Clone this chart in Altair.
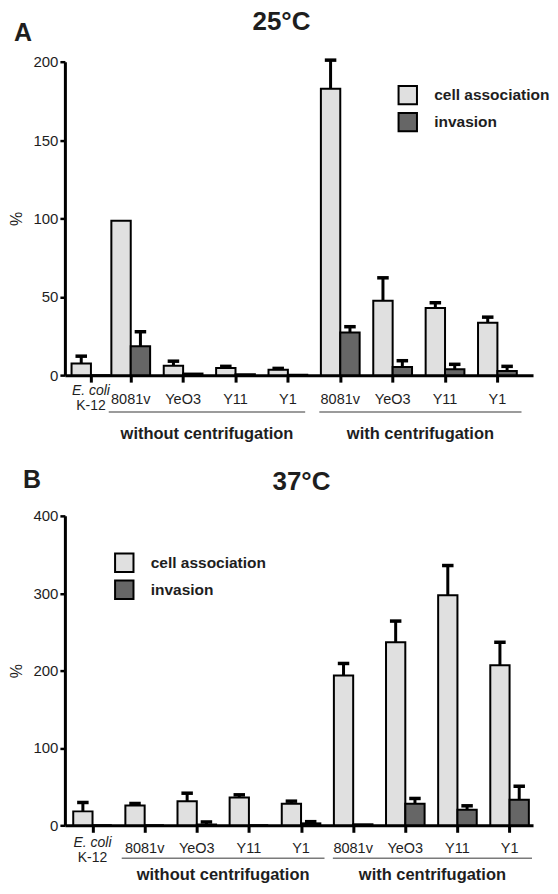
import altair as alt
import pandas as pd

# ---------------- data ----------------
categories = ["E. coli K-12", "8081v", "YeO3", "Y11", "Y1", "8081v", "YeO3", "Y11", "Y1"]
series_names = ["cell association", "invasion"]
group_names = ["without centrifugation", "with centrifugation"]

# 25 °C (panel A)
cell_25 = [7.4, 98.5, 6.0, 4.6, 3.5, 182.8, 47.4, 42.8, 33.4]
cell_25_err = [4.7, 0.0, 2.9, 1.0, 0.8, 18.2, 14.7, 3.4, 3.6]
inv_25 = [0.0, 18.5, 1.0, 0.6, 0.3, 27.2, 5.2, 3.8, 2.6]
inv_25_err = [0.0, 9.2, 0.0, 0.0, 0.0, 3.7, 4.0, 3.1, 3.0]

# 37 °C (panel B)
cell_37 = [18.0, 25.7, 31.2, 35.9, 27.8, 193.8, 236.6, 297.3, 207.0]
cell_37_err = [11.5, 2.5, 10.3, 3.5, 3.4, 15.4, 27.4, 38.5, 29.6]
inv_37 = [0.0, 0.0, 1.0, 0.0, 2.5, 1.3, 27.8, 20.1, 32.9]
inv_37_err = [0.0, 0.0, 3.3, 0.0, 2.2, 0.0, 6.9, 5.1, 17.6]

FONT = "Liberation Sans"
TXT = "#1e1e1e"
BAR_W = 0.37
CAP = 0.11


def panel(title, letter, cell, cell_err, inv, inv_err, slots, xdomain, ymax, yticks,
          height, leg_xy, title_xy, letter_xy, off):
    rows = []
    for i, cat in enumerate(categories):
        for s, v, e in ((series_names[0], cell[i], cell_err[i]), (series_names[1], inv[i], inv_err[i])):
            rows.append({"category": cat, "idx": i, "series": s, "value": v, "err": e, "slot": slots[i]})
    df = pd.DataFrame(rows)

    xscale = alt.Scale(domain=xdomain, nice=False, zero=False)
    xaxis = alt.Axis(values=slots, labels=False, title=None, grid=False, tickSize=7, tickWidth=3,
                     domainWidth=3, tickColor="black", domainColor="black")
    yscale = alt.Scale(domain=[0, ymax], nice=False)
    yaxis = alt.Axis(values=yticks, title="%", grid=False, tickSize=5, tickWidth=2.5, domainWidth=3,
                     tickColor="black", domainColor="black", labelFontSize=15, labelFont=FONT,
                     labelColor=TXT, labelPadding=2, titleFontSize=16, titleFont=FONT,
                     titleFontWeight="normal", titleColor=TXT, titlePadding=8)

    def X(f):
        return alt.X(f, type="quantitative", scale=xscale, axis=xaxis)

    def Y(f):
        return alt.Y(f, type="quantitative", scale=yscale, axis=yaxis)

    base = alt.Chart(df).transform_calculate(
        x0=f"datum.series == 'cell association' ? datum.slot - {BAR_W} : datum.slot",
        x1=f"datum.series == 'cell association' ? datum.slot : datum.slot + {BAR_W}",
        zero="0",
    )
    bars = base.mark_bar(stroke="black", strokeWidth=2).encode(
        x=X("x0"), x2="x1:Q", y=Y("value"), y2="zero:Q",
        fill=alt.Fill("series:N", scale=alt.Scale(domain=series_names, range=["#e0e0e0", "#666666"]),
                      legend=alt.Legend(title=None, orient="none", legendX=leg_xy[0], legendY=leg_xy[1],
                                        symbolType="square", symbolSize=340, symbolStrokeColor="black",
                                        symbolStrokeWidth=2, symbolOpacity=1, labelFontSize=15.5,
                                        labelFontWeight="bold", labelFont=FONT, labelColor=TXT,
                                        rowPadding=0, labelOffset=16, padding=0)),
    )
    eb = base.transform_filter("datum.err > 0").transform_calculate(
        cx="(datum.x0 + datum.x1) / 2",
        top="datum.value + datum.err",
    ).transform_calculate(cl=f"datum.cx - {CAP}", cr=f"datum.cx + {CAP}")
    err_line = eb.mark_rule(color="black", strokeWidth=3).encode(x=X("cx"), y=Y("value"), y2="top:Q")
    err_cap = eb.mark_rule(color="black", strokeWidth=3.5).encode(x=X("cl"), x2="cr:Q", y=Y("top"))

    cat_df = pd.DataFrame({"category": categories[1:], "slot": slots[1:]})
    cat_text = alt.Chart(cat_df).mark_text(font=FONT, fontSize=14.5, color=TXT, baseline="middle").encode(
        x=X("slot"), y=alt.value(height + off["cat"]), text="category:N")
    eco_df = pd.DataFrame({"a": [categories[0].split(" K-")[0]], "b": ["K-" + categories[0].split(" K-")[1]],
                           "slot": [slots[0]]})
    eco1 = alt.Chart(eco_df).mark_text(font=FONT, fontSize=14, fontStyle="italic", color=TXT,
                                       baseline="middle").encode(
        x=X("slot"), y=alt.value(height + off["eco1"]), text="a:N")
    eco2 = alt.Chart(eco_df).mark_text(font=FONT, fontSize=14, color=TXT, baseline="middle").encode(
        x=X("slot"), y=alt.value(height + off["eco2"]), text="b:N")

    grp_df = pd.DataFrame({"group": group_names, "start": off["gstart"], "end": off["gend"]})
    grp_line = alt.Chart(grp_df).mark_rule(color="#7a7a7a", strokeWidth=1.5).encode(
        x=X("start"), x2="end:Q", y=alt.value(height + off["line"]))
    grp_text = alt.Chart(grp_df).transform_calculate(mid="(datum.start + datum.end) / 2").mark_text(
        font=FONT, fontSize=16.5, fontWeight="bold", color=TXT, baseline="middle").encode(
        x=X("mid"), y=alt.value(height + off["glabel"]), text="group:N")

    t_df = pd.DataFrame({"t": [title]})
    ttl = alt.Chart(t_df).mark_text(font=FONT, fontSize=26, fontWeight="bold", color=TXT,
                                    align="center", baseline="alphabetic").encode(
        x=alt.value(title_xy[0]), y=alt.value(title_xy[1]), text="t:N")
    l_df = pd.DataFrame({"t": [letter]})
    let = alt.Chart(l_df).mark_text(font=FONT, fontSize=25, fontWeight="bold", color=TXT,
                                    align="left", baseline="alphabetic").encode(
        x=alt.value(letter_xy[0]), y=alt.value(letter_xy[1]), text="t:N")

    return alt.layer(bars, err_line, err_cap, cat_text, eco1, eco2, grp_line, grp_text, ttl, let).properties(
        width=469, height=height)


slots_25 = [0.24] + list(range(1, 9))
slots_37 = list(range(0, 9))

pA = panel("25°C", "A", cell_25, cell_25_err, inv_25, inv_25_err, slots_25, [-0.257, 8.68], 200,
           [0, 50, 100, 150, 200], 314, (333, 23), (217, -32), (-51, -21),
           {"cat": 25, "eco1": 16, "eco2": 31, "line": 37, "glabel": 59,
            "gstart": [0.58, 4.6], "gend": [4.33, 8.46]})
pB = panel("37°C", "B", cell_37, cell_37_err, inv_37, inv_37_err, slots_37, [-0.53, 8.45], 400,
           [0, 100, 200, 300, 400], 310, (49, 36.5), (237, -26), (-42, -28),
           {"cat": 23.5, "eco1": 18, "eco2": 33, "line": 33, "glabel": 50,
            "gstart": [0.56, 4.61], "gend": [4.45, 8.43]})

chart = alt.vconcat(pA, pB, spacing=141, bounds="flush").resolve_scale(
    x="independent", y="independent", fill="independent").resolve_legend(fill="independent").configure_view(
    stroke=None).properties(padding={"left": 0, "top": 0, "right": 0, "bottom": -2})

chart.save("out.html", embed_options={"renderer": "svg", "actions": False})
